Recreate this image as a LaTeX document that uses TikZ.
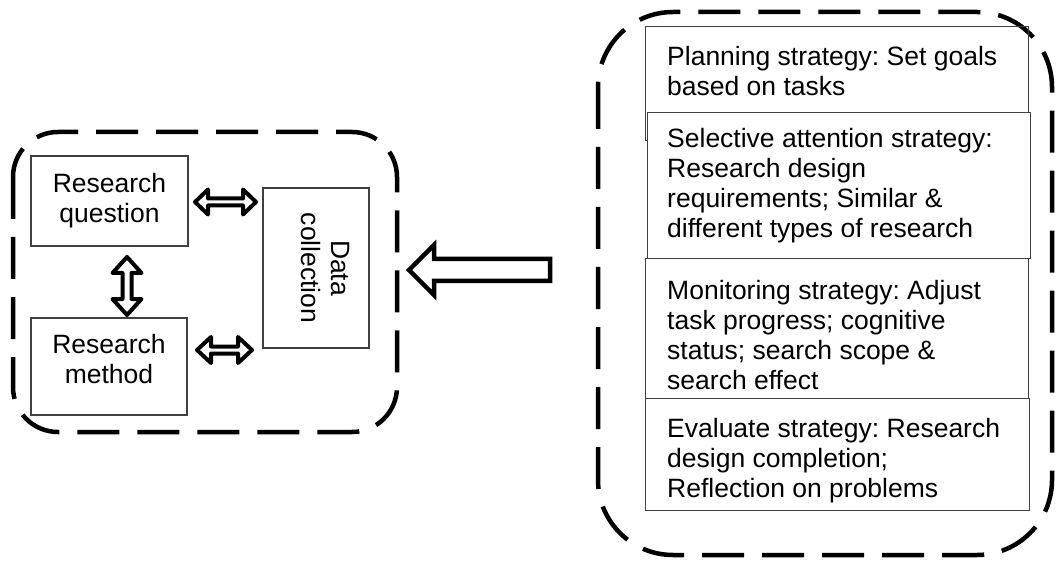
\documentclass[tikz,border=0pt]{standalone}
\usepackage{fontspec}
\setmainfont{Liberation Sans}
\frenchspacing
\begin{document}
\begin{tikzpicture}[x=1pt,y=-1pt,
  dashbox/.style={draw=black, line width=4.5pt, dash pattern=on 42pt off 18pt},
  plainbox/.style={draw=black!75, line width=1.1pt, inner sep=0pt},
  txt/.style={font=\fontsize{26.5}{30}\selectfont, inner sep=0pt, align=center},
  stxt/.style={font=\fontsize{26.5}{30}\selectfont, inner sep=0pt, align=left, anchor=north west},
  blockarrow/.style={draw=black, line width=4pt, fill=white, line join=round},
  bigarrow/.style={draw=black, line width=4.5pt, fill=white, line join=miter},
]
\useasboundingbox (0,0) rectangle (1057,561);

% dashed groups
\draw[dashbox, rounded corners=45pt] (13,132) rectangle (397,432);
\draw[dashbox, rounded corners=75pt] (598,12) rectangle (1052,555);

% left boxes
\node[plainbox, minimum width=157pt, minimum height=90pt] (rq) at (109.5,201) {};
\node[txt] (rqt) at (109.5,200.5) {Research\\question};
\node[plainbox, minimum width=156pt, minimum height=97pt] (rm) at (109,366.5) {};
\node[txt] (rmt) at (109,359) {Research\\method};
\node[plainbox, minimum width=106pt, minimum height=160pt] (dc) at (316,268) {};
\node[txt, rotate=-90] (dct) at (325,268) {Data\\collection};

% double arrows
\draw[blockarrow] (195,202) -- (208,189.5) -- (208,198.5) -- (243,198.5) -- (243,189.5) -- (256,202) -- (243,214.5) -- (243,205.5) -- (208,205.5) -- (208,214.5) -- cycle;
\draw[blockarrow] (197,350) -- (211,337) -- (211,346.5) -- (238,346.5) -- (238,337) -- (252,350) -- (238,363) -- (238,353.5) -- (211,353.5) -- (211,363) -- cycle;
\draw[blockarrow] (127,257) -- (141.5,273) -- (131.5,273) -- (131.5,299) -- (141.5,299) -- (127,315) -- (112.5,299) -- (122.5,299) -- (122.5,273) -- (112.5,273) -- cycle;

% big arrow
\draw[bigarrow] (409,270) -- (434,245) -- (434,259) -- (550,259) -- (550,281) -- (434,281) -- (434,295) -- cycle;

% strategy boxes
\node[plainbox, anchor=north west, minimum width=383pt, minimum height=114pt] (s1) at (645,26) {};
\node[plainbox, fill=white, anchor=north west, minimum width=383pt, minimum height=146pt] (s2) at (647,112) {};
\node[plainbox, anchor=north west, minimum width=383pt, minimum height=140pt] (s3) at (645,258) {};
\node[plainbox, anchor=north west, minimum width=384pt, minimum height=112pt] (s4) at (645,398) {};

\node[stxt] (s1t) at (667,46) {Planning strategy: Set goals\\based on tasks};
\node[stxt] (s2t) at (667,128) {Selective attention strategy:\\Research design\\requirements; Similar \&\\different types of research};
\node[stxt] (s3t) at (667,280) {Monitoring strategy: Adjust\\task progress; cognitive\\status; search scope \&\\search effect};
\node[stxt] (s4t) at (667,418) {Evaluate strategy: Research\\design completion;\\Reflection on problems};
\end{tikzpicture}
\end{document}
